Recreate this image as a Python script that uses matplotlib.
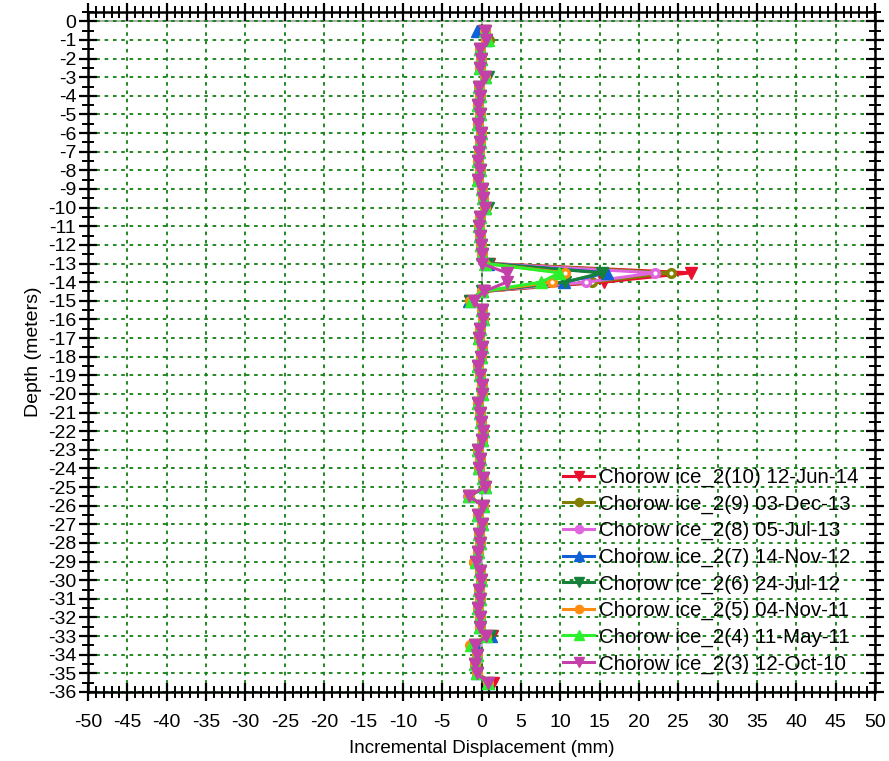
import matplotlib
matplotlib.use("Agg")
import matplotlib.pyplot as plt
from matplotlib.ticker import MultipleLocator
import numpy as np

plt.rcParams['font.family'] = ['Liberation Sans', 'DejaVu Sans']
plt.rcParams['axes.unicode_minus'] = False

# depths of the readings (m), every 0.5 m
depth = np.arange(-0.5, -35.75, -0.5)

# profile shared by all readings away from the shear zone (mm)
base_profile = [
    0.4, 0.6, -0.2, -0.1, -0.2, 0.4, -0.3, -0.2, -0.5, -0.2,      # -0.5 .. -5.0
    -0.4, -0.1, -0.2, -0.3, -0.5, -0.2, -0.4, 0.0, 0.2, 0.4,      # -5.5 .. -10.0
    -0.2, -0.3, -0.2, -0.1, 0.1, 0.0, 0.0, 0.0, 0.3, -1.0,        # -10.5 .. -15.0
    0.1, 0.2, -0.2, -0.3, 0.0, -0.1, -0.4, -0.2, 0.0, 0.1,        # -15.5 .. -20.0
    -0.5, -0.2, -0.1, 0.2, 0.0, -0.4, -0.2, -0.3, 0.2, 0.4,       # -20.5 .. -25.0
    -1.6, 0.2, -0.4, 0.0, -0.3, -0.2, -0.4, -0.75, -0.2, -0.1,    # -25.5 .. -30.0
    -0.3, -0.2, -0.4, -0.2, -0.2, 0.6, -0.8, -0.6, -0.8, -0.6,    # -30.5 .. -35.0
    0.8,                                                          # -35.5
]

labels = [
    'Chorow ice_2(10) 12-Jun-14',
    'Chorow ice_2(9) 03-Dec-13',
    'Chorow ice_2(8) 05-Jul-13',
    'Chorow ice_2(7) 14-Nov-12',
    'Chorow ice_2(6) 24-Jul-12',
    'Chorow ice_2(5) 04-Nov-11',
    'Chorow ice_2(4) 11-May-11',
    'Chorow ice_2(3) 12-Oct-10',
]

# readings that differ from the shared profile, {depth: mm}
readings_10 = {-0.5: 0.3, -13.0: 1.0, -13.5: 26.6, -14.0: 15.5, -14.5: 0.2, -15.0: -1.5, -33.0: 1.3, -35.5: 1.4}
readings_9 = {-1.0: 0.9, -13.0: 0.8, -13.5: 24.1, -14.0: 14.0, -14.5: 0.2, -15.0: -1.5, -29.0: -0.9}
readings_8 = {-13.0: 0.6, -13.5: 22.0, -14.0: 13.3, -14.5: 0.1, -15.0: -1.4, -25.5: -1.7}
readings_7 = {-0.5: -0.6, -13.0: 0.8, -13.5: 16.0, -14.0: 10.5, -14.5: 0.0, -15.0: -1.6, -33.0: 1.2}
readings_6 = {-3.0: 0.8, -10.0: 0.8, -13.0: 0.8, -13.5: 15.3, -14.0: 10.6, -14.5: 0.1, -15.0: -1.5, -33.0: 1.1}
readings_5 = {-13.0: 0.5, -13.5: 10.6, -14.0: 9.0, -14.5: 0.0, -15.0: -1.5, -25.5: -1.6, -29.0: -1.0, -33.5: -1.5}
readings_4 = {-1.0: 0.8, -13.0: 0.5, -13.5: 9.9, -14.0: 7.6, -14.5: 0.0, -15.0: -1.3, -33.5: -1.3}
readings_3 = {-13.5: 3.2, -14.0: 3.2}
readings = [readings_10, readings_9, readings_8, readings_7,
            readings_6, readings_5, readings_4, readings_3]

colors = ['#e8102c', '#808000', '#e066e0', '#1060d8', '#17803a', '#ff8c10', '#2cf02c', '#c340a8']
markers = ['v', 'o', 'o', '^', 'v', 'o', '^', 'v']

fig = plt.figure(figsize=(8.89, 7.61), dpi=100)
ax = fig.add_axes([0.099, 0.0907, 0.8853, 0.8935])

ax.axhline(0, color='#b0b0b0', lw=1.5, zorder=1)
ax.axvline(0, color='#b0b0b0', lw=1.2, zorder=1)

for lab, over, c, m in zip(labels, readings, colors, markers):
    vals = np.array(base_profile, dtype=float)
    for d, v in over.items():
        vals[int(round(-d / 0.5)) - 1] = v
    if m == 'o':
        ax.plot(vals, depth, '-', color=c, lw=2.2, marker=m, ms=7,
                mfc=c, mec=c, label=lab, zorder=3)
        ax.plot(vals, depth, 'o', color='white', ms=2, zorder=3)
    else:
        ax.plot(vals, depth, '-', color=c, lw=2.2, marker=m, ms=8,
                mfc=c, mec=c, label=lab, zorder=3)

ax.set_xlim(-50, 50)
ax.set_ylim(-36, 0.5)
ax.xaxis.set_major_locator(MultipleLocator(5))
ax.xaxis.set_minor_locator(MultipleLocator(1))
ax.yaxis.set_minor_locator(MultipleLocator(0.5))
ax.set_yticks(np.arange(-36, 1, 1))

ax.grid(True, which='major', color='#108010', lw=1.3, linestyle=(0, (2.0, 2.6)), zorder=0)

ax.tick_params(which='major', direction='inout', length=13, width=1.6,
               top=True, right=True, pad=2)
ax.tick_params(which='minor', direction='inout', length=8, width=1.4,
               top=True, right=True)
ax.tick_params(axis='x', which='major', pad=9, labelsize=14)
ax.tick_params(axis='y', which='major', labelsize=14)
for s in ax.spines.values():
    s.set_linewidth(1.8)

ax.set_xlabel('Incremental Displacement (mm)', fontsize=13.5, labelpad=7)
ax.set_ylabel('Depth (meters)', fontsize=14, labelpad=4)

handles, labs = ax.get_legend_handles_labels()
leg = ax.legend(handles, labs, loc='lower right', bbox_to_anchor=(0.99, 0.015),
                frameon=False, fontsize=14.8, handlelength=1.5, handletextpad=0.25,
                labelspacing=0.36, borderaxespad=0.0, markerscale=0.85)

fig.savefig('out.png', dpi=100)
